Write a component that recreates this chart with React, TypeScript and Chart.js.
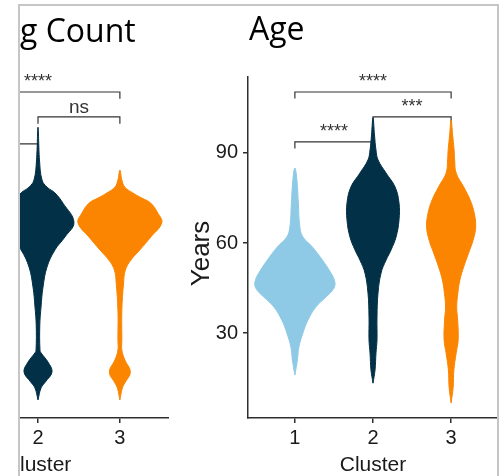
import React, { useEffect, useRef } from 'react';
import { Chart, registerables } from 'chart.js';

Chart.register(...registerables);

// ---------- shared ----------
const clusterColors = ['#8ECAE6', '#023047', '#FB8500'];

// ---------- Age panel ----------
const ageClusters = [1, 2, 3];
const ageTicks = [30, 60, 90];
const age1Levels = [16, 21, 25.3, 30, 34.3, 38.7, 42, 44, 46, 48, 50, 54.3, 58.7, 62, 65.3, 73, 81, 85];
const age1Widths = [0, 0.032, 0.051, 0.103, 0.167, 0.269, 0.397, 0.475, 0.513, 0.5, 0.462, 0.353, 0.224, 0.103, 0.064, 0.045, 0.026, 0];
const age2Levels = [13.3, 17.7, 23.3, 27.7, 35.3, 43.3, 50, 54.3, 57.7, 62, 67.7, 73.3, 78.7, 83.3, 87.7, 91, 96, 101.7];
const age2Widths = [0, 0.026, 0.038, 0.051, 0.051, 0.064, 0.103, 0.167, 0.231, 0.295, 0.333, 0.333, 0.282, 0.167, 0.064, 0.038, 0.019, 0];
const age3Levels = [6.7, 12, 17.7, 23.3, 27.7, 34.3, 38.7, 43.3, 47.7, 52, 56.7, 61, 65.3, 70, 74.3, 78.7, 83.3, 87.7, 91, 96, 101];
const age3Widths = [0, 0.026, 0.035, 0.064, 0.09, 0.084, 0.071, 0.086, 0.112, 0.16, 0.224, 0.282, 0.314, 0.295, 0.244, 0.16, 0.064, 0.045, 0.038, 0.019, 0];
const ageBracketFrom = [1, 2, 1];
const ageBracketTo = [3, 3, 2];
const ageBracketY = [110.3, 102, 93.7];
const ageBracketLabels = ['****', '***', '****'];

// ---------- Count panel (visible part) ----------
const countClusters = [2, 3];
const count2Levels = [5.3, 8.8, 10.6, 13.5, 16.4, 19.1, 19.9, 27.3, 32.6, 38.4, 44.3, 49.3, 53.1, 57.4, 63.0, 66.0, 67.7, 69.8, 75.7, 85.3];
const count2Widths = [0, 0.037, 0.091, 0.171, 0.122, 0.037, 0.024, 0.022, 0.037, 0.061, 0.11, 0.207, 0.329, 0.439, 0.305, 0.207, 0.11, 0.049, 0.018, 0];
const count3Levels = [5.3, 8.8, 10.3, 13.5, 17.0, 19.9, 22.9, 31.7, 39.6, 43.4, 46.3, 49.3, 53.1, 57.2, 60.1, 63.0, 64.5, 66.0, 67.7, 69.8, 72.7];
const count3Widths = [0, 0.03, 0.061, 0.128, 0.061, 0.024, 0.024, 0.024, 0.045, 0.067, 0.134, 0.244, 0.378, 0.512, 0.463, 0.378, 0.268, 0.159, 0.061, 0.024, 0];
const countBracketFrom = [1, 2, 1];
const countBracketTo = [3, 3, 2];
const countBracketY = [95.6, 88.3, 80.4];
const countBracketLabels = ['****', 'ns', ''];

// ---------- styling ----------
const SANS = '"Liberation Sans", Arial, Helvetica, sans-serif';
const TITLE_FONT = '"Open Sans", "Noto Sans", sans-serif';
const AXIS = '#2e2e2e';
const TEXT = '#1a1a1a';

function violin(center: number, levels: number[], widths: number[]) {
  const right = levels.map((v, i) => ({ x: center + widths[i], y: v }));
  const left = levels.map((v, i) => ({ x: center - widths[i], y: v })).reverse();
  return [...right, ...left.slice(1)];
}

function bracket(from: number, to: number, y: number, tip: number) {
  return [
    { x: from, y: y - tip },
    { x: from, y },
    { x: to, y },
    { x: to, y: y - tip },
  ];
}

const annotate = {
  id: 'annotate',
  afterDatasetsDraw(chart: any, _args: any, opts: any) {
    const { ctx, scales, chartArea } = chart;
    const x = scales.x;
    const y = scales.y;
    ctx.save();
    ctx.fillStyle = '#333';
    ctx.textAlign = 'center';
    ctx.textBaseline = 'alphabetic';
    opts.labels.forEach((t: string, i: number) => {
      if (!t) return;
      ctx.font = (t === 'ns' ? '19px ' : '18px ') + SANS;
      const px = x.getPixelForValue((opts.from[i] + opts.to[i]) / 2);
      const py = y.getPixelForValue(opts.y[i]) - (t === 'ns' ? 4 : 5);
      ctx.fillText(t, px, py);
    });
    ctx.fillStyle = '#000';
    ctx.textAlign = 'left';
    ctx.font = '32px ' + TITLE_FONT;
    ctx.fillText(opts.title, chartArea.left + opts.titleDx, opts.titleBaseline);
    if (opts.yTitle) {
      ctx.save();
      ctx.fillStyle = TEXT;
      ctx.font = '26px ' + SANS;
      ctx.textAlign = 'center';
      ctx.textBaseline = 'middle';
      ctx.translate(opts.yTitleX, (chartArea.top + chartArea.bottom) / 2 + opts.yTitleDy);
      ctx.rotate(-Math.PI / 2);
      ctx.fillText(opts.yTitle, 0, 0);
      ctx.restore();
    }
    ctx.restore();
  },
};

function makeDatasets(
  clusters: number[],
  colors: string[],
  levels: number[][],
  widths: number[][],
  from: number[],
  to: number[],
  by: number[],
  tip: number
) {
  const v = clusters.map((c, i) => ({
    data: violin(c, levels[i], widths[i]),
    showLine: true,
    fill: 'shape',
    backgroundColor: colors[i],
    borderColor: colors[i],
    borderWidth: 1,
    pointRadius: 0,
    tension: 0.4,
  }));
  const b = from.map((f, i) => ({
    data: bracket(f, to[i], by[i], tip),
    showLine: true,
    fill: false,
    borderColor: '#333',
    borderWidth: 1.2,
    pointRadius: 0,
    tension: 0,
  }));
  return [...v, ...b];
}

function xScale(ticks: number[], min: number, title: string, align: string) {
  return {
    type: 'linear',
    min,
    max: 3.6,
    afterBuildTicks: (s: any) => {
      s.ticks = ticks.map((v) => ({ value: v }));
    },
    afterFit: (s: any) => {
      s.height = 58;
    },
    ticks: { font: { size: 20, family: SANS }, color: TEXT, padding: 3, autoSkip: false, maxRotation: 0 },
    grid: { display: true, drawOnChartArea: false, drawTicks: true, tickLength: 5, color: AXIS, lineWidth: 1.5 },
    border: { display: true, color: AXIS, width: 1.5 },
    title: {
      display: true,
      text: title,
      align,
      font: { size: 21, family: SANS, lineHeight: 1 },
      color: TEXT,
      padding: { top: 0, bottom: 0 },
    },
  };
}

function ageConfig(): any {
  return {
    type: 'scatter',
    data: {
      datasets: makeDatasets(
        ageClusters,
        clusterColors,
        [age1Levels, age2Levels, age3Levels],
        [age1Widths, age2Widths, age3Widths],
        ageBracketFrom,
        ageBracketTo,
        ageBracketY,
        2.2
      ),
    },
    options: {
      responsive: false,
      animation: false,
      events: [],
      layout: { padding: { top: 77, left: 0, right: 0, bottom: 0 } },
      plugins: {
        legend: { display: false },
        tooltip: { enabled: false },
        annotate: {
          labels: ageBracketLabels,
          from: ageBracketFrom,
          to: ageBracketTo,
          y: ageBracketY,
          title: 'Age',
          titleDx: 1,
          titleBaseline: 40,
          yTitle: 'Years',
          yTitleX: 52,
          yTitleDy: 6,
        },
      },
      scales: {
        x: xScale(ageClusters, 0.4, 'Cluster', 'center'),
        y: {
          type: 'linear',
          min: 1.7,
          max: 115.3,
          afterBuildTicks: (s: any) => {
            s.ticks = ageTicks.map((v) => ({ value: v }));
          },
          afterFit: (s: any) => {
            s.width = 98;
          },
          ticks: { font: { size: 20, family: SANS }, color: TEXT, padding: 5 },
          grid: { display: true, drawOnChartArea: false, drawTicks: true, tickLength: 5, color: AXIS, lineWidth: 1.5 },
          border: { display: true, color: AXIS, width: 1.5 },
          title: { display: false },
        },
      },
    },
    plugins: [annotate],
  };
}

function countConfig(): any {
  return {
    type: 'scatter',
    data: {
      datasets: makeDatasets(
        countClusters,
        [clusterColors[1], clusterColors[2]],
        [count2Levels, count3Levels],
        [count2Widths, count3Widths],
        countBracketFrom,
        countBracketTo,
        countBracketY,
        2
      ),
    },
    options: {
      responsive: false,
      animation: false,
      events: [],
      layout: { padding: { top: 77, left: 0, right: 0, bottom: 0 } },
      plugins: {
        legend: { display: false },
        tooltip: { enabled: false },
        annotate: {
          labels: countBracketLabels,
          from: countBracketFrom,
          to: countBracketTo,
          y: countBracketY,
          title: 'g Count',
          titleDx: 0,
          titleBaseline: 42,
        },
      },
      scales: {
        x: xScale(countClusters, 1.78, 'luster', 'start'),
        y: { type: 'linear', min: 0, max: 100, display: false },
      },
    },
    plugins: [annotate],
  };
}

function ChartCanvas(props: { make: () => any; left: number; width: number; height: number }) {
  const ref = useRef<HTMLCanvasElement>(null);
  useEffect(() => {
    const chart = new Chart(ref.current as HTMLCanvasElement, props.make());
    return () => chart.destroy();
  }, []);
  return (
    <canvas
      ref={ref}
      width={props.width}
      height={props.height}
      style={{ position: 'absolute', left: props.left, top: 0, width: props.width, height: props.height }}
    />
  );
}

export default function App() {
  return (
    <div
      style={{
        position: 'absolute',
        left: 0,
        top: 0,
        width: 500,
        height: 476,
        overflow: 'hidden',
        background: '#fff',
      }}
    >
      <ChartCanvas make={countConfig} left={20} width={149} height={476} />
      <ChartCanvas make={ageConfig} left={150} width={348} height={476} />
      <div
        style={{
          position: 'absolute',
          left: 18,
          top: 4,
          width: 481,
          height: 520,
          boxSizing: 'border-box',
          borderTop: '2px solid #c6c6c6',
          borderLeft: '2px solid #c6c6c6',
          borderRight: '2px solid #c6c6c6',
          pointerEvents: 'none',
        }}
      />
    </div>
  );
}
